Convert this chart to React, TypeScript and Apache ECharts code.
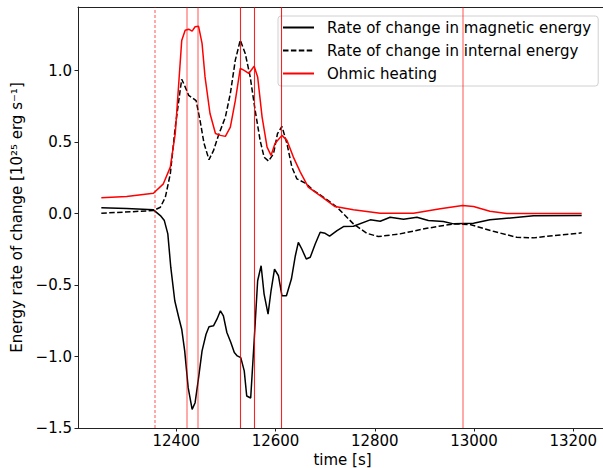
import React, { useEffect, useRef } from "react";
import * as echarts from "echarts";

// Rate of change in magnetic energy (solid black)
const magTime = [12249, 12300, 12354, 12368, 12376, 12383, 12389, 12397, 12405, 12411, 12417, 12424, 12432, 12438, 12445, 12452, 12460, 12466, 12475, 12482, 12489, 12495, 12502, 12510, 12517, 12523, 12530, 12537, 12542, 12550, 12557, 12564, 12571, 12577, 12585, 12591, 12598, 12606, 12613, 12622, 12632, 12640, 12646, 12653, 12662, 12670, 12680, 12690, 12700, 12709, 12724, 12737, 12757, 12791, 12811, 12831, 12858, 12885, 12908, 12938, 12959, 12999, 13032, 13066, 13120, 13217];
const magValues = [0.04, 0.036, 0.026, -0.014, -0.049, -0.142, -0.377, -0.61, -0.727, -0.809, -0.96, -1.218, -1.37, -1.323, -1.148, -0.96, -0.844, -0.792, -0.785, -0.739, -0.68, -0.715, -0.832, -0.902, -0.972, -0.996, -1.008, -1.1, -1.276, -1.29, -0.89, -0.47, -0.365, -0.563, -0.703, -0.54, -0.388, -0.435, -0.575, -0.575, -0.458, -0.295, -0.201, -0.248, -0.318, -0.306, -0.213, -0.131, -0.138, -0.158, -0.119, -0.091, -0.089, -0.044, -0.054, -0.026, -0.04, -0.026, -0.049, -0.056, -0.072, -0.068, -0.044, -0.033, -0.016, -0.014];

// Rate of change in internal energy (dashed black)
const intTime = [12249, 12354, 12368, 12378, 12388, 12398, 12407, 12411, 12418, 12425, 12432, 12440, 12448, 12456, 12466, 12475, 12485, 12499, 12509, 12519, 12529, 12539, 12549, 12559, 12569, 12577, 12586, 12596, 12604, 12613, 12623, 12633, 12643, 12660, 12677, 12697, 12724, 12757, 12784, 12807, 12851, 12905, 12959, 12992, 13039, 13086, 13120, 13160, 13217];
const intValues = [0.002, 0.021, 0.044, 0.114, 0.278, 0.605, 0.84, 0.94, 0.886, 0.827, 0.81, 0.79, 0.65, 0.49, 0.377, 0.44, 0.547, 0.675, 0.84, 1.073, 1.213, 1.12, 0.956, 0.722, 0.512, 0.395, 0.367, 0.419, 0.559, 0.61, 0.49, 0.325, 0.243, 0.213, 0.161, 0.114, 0.044, -0.072, -0.138, -0.161, -0.142, -0.103, -0.072, -0.077, -0.124, -0.166, -0.17, -0.154, -0.135];

// Ohmic heating (red)
const ohmTime = [12249, 12300, 12354, 12374, 12388, 12398, 12405, 12411, 12418, 12425, 12432, 12438, 12445, 12452, 12458, 12468, 12479, 12489, 12499, 12509, 12519, 12529, 12536, 12546, 12557, 12564, 12573, 12583, 12591, 12599, 12613, 12623, 12636, 12650, 12666, 12690, 12720, 12757, 12811, 12878, 12932, 12977, 12999, 13032, 13066, 13120, 13217];
const ohmValues = [0.11, 0.12, 0.142, 0.208, 0.325, 0.56, 0.91, 1.21, 1.283, 1.29, 1.276, 1.307, 1.31, 1.19, 0.956, 0.7, 0.56, 0.547, 0.54, 0.605, 0.79, 1.015, 1.003, 0.98, 1.03, 0.956, 0.675, 0.465, 0.407, 0.49, 0.547, 0.512, 0.395, 0.29, 0.185, 0.126, 0.049, 0.026, 0.002, 0.002, 0.033, 0.056, 0.049, 0.016, 0.0, 0.0, 0.0];

// Vertical event markers
const markerTimes = [12356, 12422, 12444, 12529, 12558, 12612, 12977];
const markerKinds = ["dashed", "light", "light", "strong", "strong", "strong", "light"];

const xTicks = [12400, 12600, 12800, 13000, 13200];
const yTicks = [-1.5, -1.0, -0.5, 0.0, 0.5, 1.0];

const seriesNames = [
  "Rate of change in magnetic energy",
  "Rate of change in internal energy",
  "Ohmic heating",
];

const FONT = "DejaVu Sans";
const FS = 15;

const zip = (t: number[], v: number[]) => t.map((x, i) => [x, v[i]]);

const markerStyle = (kind: string) => {
  if (kind === "dashed") return { color: "rgba(255,0,0,0.45)", width: 1.5, type: [3, 2] };
  if (kind === "light") return { color: "rgba(255,0,0,0.45)", width: 1.5, type: "solid" };
  return { color: "rgba(240,0,0,0.85)", width: 1.1, type: "solid" };
};

const fmtY = (v: number) => {
  const s = v.toFixed(1);
  return s.startsWith("-") ? "\u2212" + s.slice(1) : s;
};
const fmtX = (v: number) => String(Math.round(v));

export default function App() {
  const ref = useRef<HTMLDivElement>(null);
  useEffect(() => {
    if (!ref.current) return;
    const chart = echarts.init(ref.current, undefined, { renderer: "svg" });
    const axisLine = { show: true, onZero: false, lineStyle: { color: "#222", width: 1 } };
    chart.setOption({
      animation: false,
      backgroundColor: "#fff",
      textStyle: { fontFamily: FONT },
      grid: { left: 78, top: 7, right: -4, bottom: 40, containLabel: false, outerBoundsMode: "none" },
      legend: {
        orient: "vertical",
        left: 278,
        top: 16,
        padding: [4, 7, 5, 4],
        itemGap: 8,
        itemWidth: 31,
        itemHeight: 14,
        itemStyle: { opacity: 0 },
        backgroundColor: "rgba(255,255,255,0.85)",
        borderColor: "#d0d0d0",
        borderWidth: 1,
        borderRadius: 3,
        textStyle: { fontFamily: FONT, fontSize: FS, color: "#000", padding: [0, 0, 0, 8] },
        data: seriesNames,
      },
      xAxis: [
        {
          type: "value",
          min: 12202,
          max: 13268,
          position: "bottom",
          name: "time [s]",
          nameLocation: "middle",
          nameGap: 21,
          nameTextStyle: { fontFamily: FONT, fontSize: FS, color: "#000" },
          axisLine,
          axisTick: { show: true, length: 3.5, lineStyle: { color: "#222" }, customValues: xTicks },
          axisLabel: { fontFamily: FONT, fontSize: FS, color: "#000", margin: 5, customValues: xTicks, formatter: fmtX },
          splitLine: { show: false },
        },
        {
          type: "value",
          min: 12202,
          max: 13268,
          position: "top",
          axisLine,
          axisTick: { show: false },
          axisLabel: { show: false },
          splitLine: { show: false },
        },
      ],
      yAxis: {
        type: "value",
        min: -1.5,
        max: 1.445,
        name: "Energy rate of change [10\u00B2\u2075 erg s\u207B\u00B9]",
        nameLocation: "middle",
        nameGap: 47,
        nameRotate: 90,
        nameTextStyle: { fontFamily: FONT, fontSize: FS, color: "#000" },
        axisLine,
        axisTick: { show: true, length: 3.5, lineStyle: { color: "#222" }, customValues: yTicks },
        axisLabel: { fontFamily: FONT, fontSize: FS, color: "#000", margin: 6, customValues: yTicks, formatter: fmtY },
        splitLine: { show: false },
      },
      series: [
        {
          name: seriesNames[0],
          type: "line",
          data: zip(magTime, magValues),
          showSymbol: false,
          symbol: "none",
          lineStyle: { color: "#000", width: 1.5 },
          itemStyle: { color: "#000" },
          z: 3,
          markLine: {
            silent: true,
            symbol: "none",
            label: { show: false },
            data: markerTimes.map((t, i) => ({ xAxis: t, lineStyle: markerStyle(markerKinds[i]) })),
          },
        },
        {
          name: seriesNames[1],
          type: "line",
          data: zip(intTime, intValues),
          showSymbol: false,
          symbol: "none",
          lineStyle: { color: "#000", width: 1.5, type: [5.5, 2.4] },
          itemStyle: { color: "#000" },
          z: 4,
        },
        {
          name: seriesNames[2],
          type: "line",
          data: zip(ohmTime, ohmValues),
          showSymbol: false,
          symbol: "none",
          lineStyle: { color: "#ff0000", width: 1.5 },
          itemStyle: { color: "#ff0000" },
          z: 5,
        },
      ],
    });
    return () => chart.dispose();
  }, []);
  return (
    <div
      ref={ref}
      style={{ position: "fixed", left: 0, top: 0, width: 603, height: 468, background: "#fff" }}
    />
  );
}
